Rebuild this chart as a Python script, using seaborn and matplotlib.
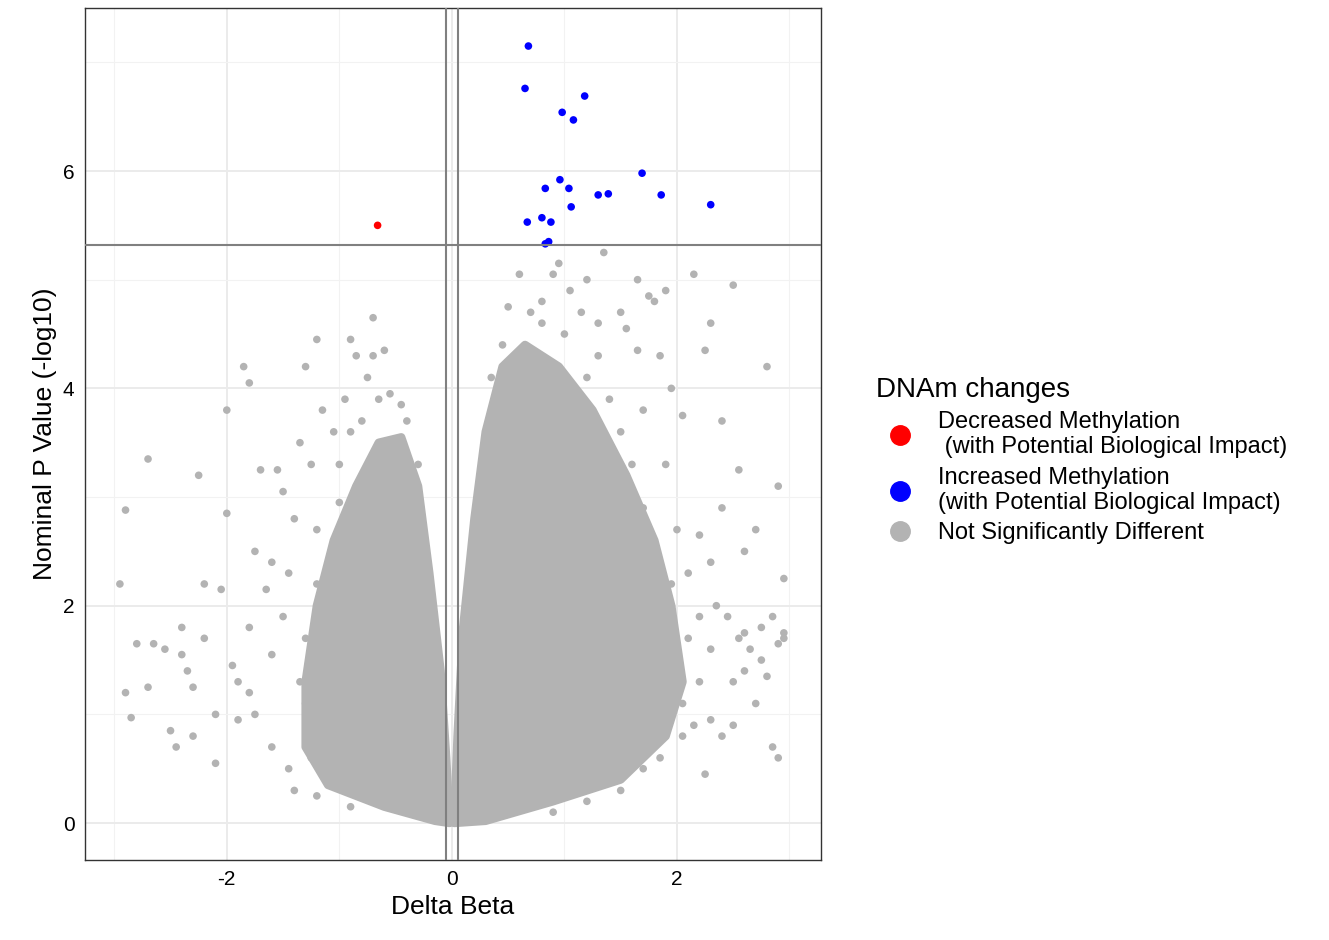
import numpy as np
import pandas as pd
import seaborn as sns
import matplotlib.pyplot as plt
from matplotlib.lines import Line2D

# Significant points
blue_x = [0.68,0.65,1.18,0.98,1.08,1.69,0.96,0.83,1.04,1.30,1.39,1.86,2.30,1.06,0.80,0.67,0.88,0.86,0.83]
blue_y = [7.15,6.76,6.69,6.54,6.47,5.98,5.92,5.84,5.84,5.78,5.79,5.78,5.69,5.67,5.57,5.53,5.53,5.35,5.33]
red_x = [-0.66]
red_y = [5.50]

# Sparse non-significant outliers
gray_pts = [(-2.95,2.2),(-2.9,2.88),(-2.9,1.2),(-2.85,0.97),(-2.8,1.65),(-2.7,3.35),(-2.7,1.25),(-2.65,1.65),
(-2.55,1.6),(-2.5,0.85),(-2.45,0.7),(-2.4,1.8),(-2.4,1.55),(-2.35,1.4),(-2.3,1.25),(-2.3,0.8),(-2.25,3.2),
(-2.2,2.2),(-2.2,1.7),(-2.1,0.55),(-2.05,2.15),(-2.0,3.8),(-2.0,2.85),(-1.95,1.45),(-1.9,1.3),(-1.9,0.95),
(-1.85,4.2),(-1.8,4.05),(-1.8,1.2),(-1.75,1.0),(-1.75,2.5),(-1.7,3.25),(-1.65,2.15),(-1.6,1.55),(-1.6,0.7),
(-1.55,3.25),(-1.5,3.05),(-1.5,1.9),(-1.45,0.5),(-1.4,2.8),(-1.35,3.5),(-1.3,4.2),(-1.3,1.1),(-1.25,3.3),
(-1.2,4.45),(-1.2,2.2),(-1.15,3.8),(-1.1,0.7),(-1.05,3.6),(-1.0,2.95),(-0.95,3.9),(-0.9,4.45),(-0.85,4.3),
(-0.8,3.7),(-0.75,4.1),(-0.7,4.65),(-0.7,4.3),(-0.6,4.35),(-0.55,3.95),(-0.45,3.85),(-0.35,2.8),(-0.25,2.4),
(-1.4,0.3),(-1.2,0.25),(-0.9,0.15),(-1.6,2.4),(-1.8,1.8),(-2.1,1.0),(-1.3,1.7),(-1.1,1.4),
(-1.45,2.3),(-1.35,1.3),(-1.25,0.6),(-1.2,2.7),(-1.0,3.3),(-0.9,3.6),(-0.65,3.9),(-0.4,3.7),(-0.3,3.3),
(0.5,4.75),(0.6,5.05),(0.7,4.7),(0.8,4.8),(0.9,5.05),(0.95,5.15),(1.05,4.9),(1.15,4.7),(1.2,5.0),(1.3,4.6),
(1.35,5.25),(1.5,4.7),(1.55,4.55),(1.65,4.35),(1.65,5.0),(1.75,4.85),(1.8,4.8),(1.85,4.3),(1.9,4.9),(1.95,4.0),
(2.05,3.75),(2.15,5.05),(2.25,4.35),(2.3,4.6),(2.4,3.7),(2.5,4.95),(2.55,3.25),(2.6,2.5),(2.7,2.7),(2.8,4.2),
(2.9,3.1),(2.95,2.25),(2.9,1.65),(2.85,0.7),(2.9,0.6),(2.75,1.5),(2.6,1.75),(2.5,1.3),(2.4,0.8),(2.3,1.6),
(2.25,0.45),(2.2,1.9),(2.1,2.3),(2.05,1.1),(2.0,2.7),(1.9,3.3),(1.85,0.6),(1.8,2.0),(1.7,3.8),(1.6,1.2),
(1.5,0.3),(1.4,3.9),(1.3,0.4),(2.35,2.0),(2.45,1.9),(2.55,1.7),(2.65,1.6),(2.75,1.8),(2.85,1.9),(2.95,1.7),
(2.7,1.1),(2.5,0.9),(2.3,2.4),(2.0,1.5),(1.95,2.2),(2.1,1.7),(2.2,1.3),(2.4,2.9),(2.2,2.65),(1.9,1.8),
(1.75,2.4),(1.7,2.9),(1.6,3.3),(1.5,3.6),(1.9,1.1),(2.15,0.9),(2.3,0.95),(2.6,1.4),(2.8,1.35),(2.95,1.75),
(1.2,0.2),(0.9,0.1),(1.3,4.3),(1.2,4.1),(1.0,4.5),(0.8,4.6),(0.45,4.4),(0.35,4.1),(1.55,3.1),(1.7,2.6),
(1.95,1.6),(2.05,0.8),(1.7,0.5)]
gray_x = [p[0] for p in gray_pts]
gray_y = [p[1] for p in gray_pts]

# Outlines of the dense point clouds
left_cloud_x = [-0.02,-0.15,-0.6,-1.1,-1.3,-1.3,-1.2,-1.05,-0.85,-0.65,-0.45,-0.3,-0.2,-0.1,-0.05]
left_cloud_y = [0.0,0.02,0.15,0.35,0.7,1.3,2.0,2.6,3.1,3.5,3.55,3.1,2.3,1.4,0.6]
right_cloud_x = [0.02,0.3,0.9,1.5,1.9,2.05,1.95,1.8,1.55,1.25,0.95,0.65,0.45,0.3,0.2,0.1,0.05]
right_cloud_y = [0.0,0.02,0.2,0.4,0.8,1.3,2.0,2.6,3.2,3.8,4.2,4.4,4.2,3.6,2.8,1.8,0.8]

labels = ["Decreased Methylation\n (with Potential Biological Impact)",
          "Increased Methylation\n(with Potential Biological Impact)",
          "Not Significantly Different"]
colors = ["#FF0000", "#0000FF", "#B3B3B3"]

df = pd.DataFrame({
    "x": gray_x + blue_x + red_x,
    "y": gray_y + blue_y + red_y,
    "g": [labels[2]]*len(gray_x) + [labels[1]]*len(blue_x) + [labels[0]]*len(red_x),
})

sns.set_style("white")
plt.rcParams['font.family'] = ['Liberation Sans', 'DejaVu Sans']
plt.rcParams['axes.unicode_minus'] = False
plt.rcParams['text.color'] = 'black'
plt.rcParams['axes.labelcolor'] = 'black'
fig = plt.figure(figsize=(13.29, 9.4), dpi=100)
ax = fig.add_axes([85/1329, 80/940, 736/1329, 852/940])

ax.set_xlim(-3.26, 3.28)
ax.set_ylim(-0.34, 7.5)
ax.set_xticks([-2, 0, 2])
ax.set_yticks([0, 2, 4, 6])
ax.set_xticks([-3, -1, 1, 3], minor=True)
ax.set_yticks([1, 3, 5, 7], minor=True)
ax.grid(True, which='major', color='#EBEBEB', lw=1.4, zorder=0)
ax.grid(True, which='minor', color='#F2F2F2', lw=0.8, zorder=0)
ax.set_axisbelow(True)

ax.fill(left_cloud_x, left_cloud_y, color=colors[2], ec=colors[2], lw=6, zorder=2, joinstyle='round')
ax.fill(right_cloud_x, right_cloud_y, color=colors[2], ec=colors[2], lw=6, zorder=2, joinstyle='round')

sns.scatterplot(data=df, x="x", y="y", hue="g", hue_order=labels, palette=colors,
                s=30, linewidth=0, ax=ax, legend=False, zorder=3)

ax.axvline(-0.05, color='#808080', lw=1.5, zorder=4)
ax.axvline(0.05, color='#808080', lw=1.5, zorder=4)
ax.axhline(5.32, color='#808080', lw=1.5, zorder=4)

for s in ax.spines.values():
    s.set_color('#333333'); s.set_linewidth(1.0)
ax.tick_params(axis='both', which='major', labelsize=15, colors='#333333', length=4, labelcolor='black')
ax.tick_params(which='minor', length=0)
ax.set_xlabel("Delta Beta", fontsize=19)
ax.set_ylabel("Nominal P Value (-log10)", fontsize=19)

handles = [Line2D([], [], marker='o', ls='', color=c, markersize=14) for c in colors]
leg = fig.legend(handles, labels, title="DNAm changes", loc='center left',
                 bbox_to_anchor=(855/1329, 0.51), frameon=False, fontsize=17,
                 title_fontsize=20, handletextpad=0.6, labelspacing=0.35, alignment='left')

fig.savefig("out.png", dpi=100)
